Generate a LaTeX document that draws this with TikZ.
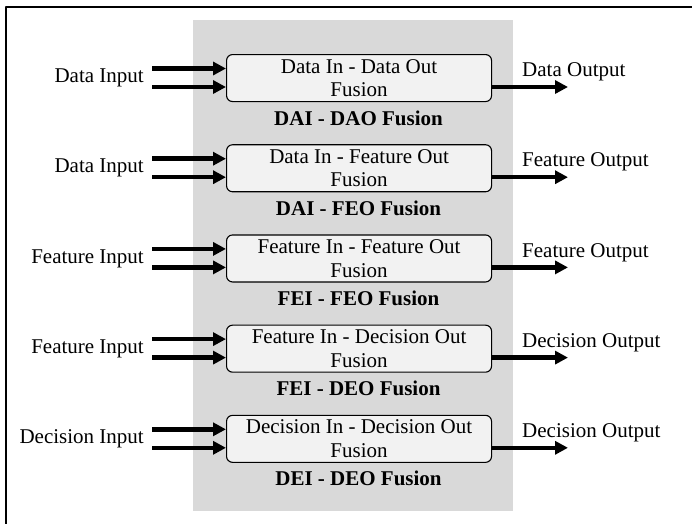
\documentclass[tikz,border=0pt]{standalone}
\usepackage{fontspec}
\setmainfont{Liberation Serif}
\usetikzlibrary{arrows.meta}
\definecolor{panelgray}{HTML}{D9D9D9}
\definecolor{boxgray}{HTML}{F2F2F2}
\tikzset{
  fusbox/.style={draw, rounded corners=6pt, fill=boxgray, line width=1.1pt, minimum width=265pt, minimum height=47pt, align=center, inner sep=0pt},
  fustitle/.style={font=\fontsize{21}{23}\selectfont\bfseries, inner sep=0pt},
  flow/.style={line width=4.5pt, -{Triangle[length=13pt,width=13pt]}},
}
\begin{document}
\begin{tikzpicture}[x=1pt, y=-1pt, font=\fontsize{21}{23.5}\selectfont, line join=round]
\useasboundingbox (0,0) rectangle (696,523);
\draw[line width=1.2pt] (6,530) -- (6,7) -- (692,7);
\fill[panelgray] (193,20) rectangle (513,511);
\foreach \i/\txt/\lab/\inp/\outp in {%
  1/Data In - Data Out/DAI - DAO Fusion/Data Input/Data Output,
  2/Data In - Feature Out/DAI - FEO Fusion/Data Input/Feature Output,
  3/Feature In - Feature Out/FEI - FEO Fusion/Feature Input/Feature Output,
  4/Feature In - Decision Out/FEI - DEO Fusion/Feature Input/Decision Output,
  5/Decision In - Decision Out/DEI - DEO Fusion/Decision Input/Decision Output}{
  \pgfmathsetmacro{\yt}{54+90.2*(\i-1)}
  \node[fusbox, anchor=north west] (b\i) at (226,\yt) {\txt\\Fusion};
  \node[fustitle] (t\i) at (358.5,\yt+64) {\lab};
  \node[anchor=east, inner sep=0pt] (in\i) at (144,\yt+24) {\inp};
  \node[anchor=west, inner sep=0pt] (out\i) at (522,\yt+18) {\outp};
  \coordinate (ia\i) at (152,\yt+14.5);
  \coordinate (ib\i) at (152,\yt+33);
  \coordinate (o\i) at (568,\yt+33);
  \draw[flow] (ia\i) -- (ia\i -| b\i.west);
  \draw[flow] (ib\i) -- (ib\i -| b\i.west);
  \draw[flow] (o\i -| b\i.east) -- (o\i);
}
\end{tikzpicture}
\end{document}
